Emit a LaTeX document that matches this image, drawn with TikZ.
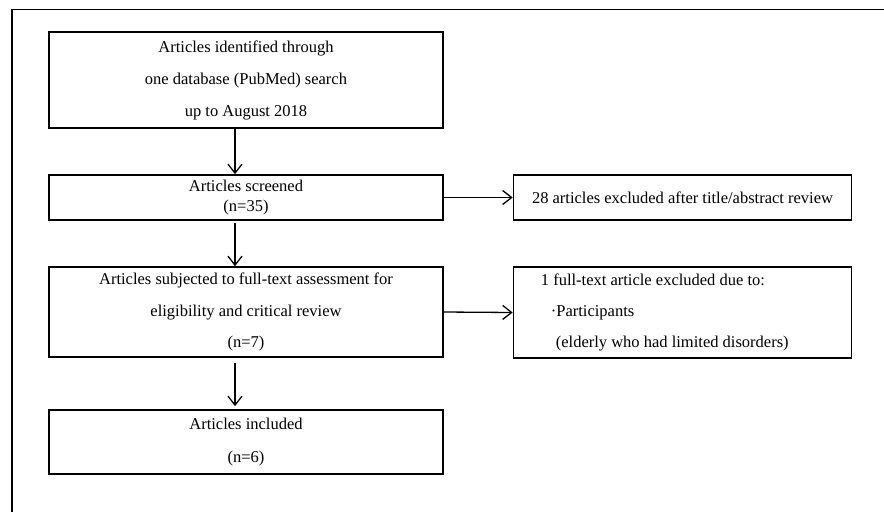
\documentclass[tikz,border=0pt]{standalone}
\usepackage{fontspec}
\setmainfont{Liberation Serif}
\usetikzlibrary{arrows.meta,positioning}

\begin{document}
\begin{tikzpicture}[x=1pt, y=-1pt,
	box/.style={draw, line width=1.6pt, minimum width=394pt, inner sep=0pt, align=center, font=\fontsize{16.5}{19}\selectfont},
	side/.style={box, minimum width=338pt},
	txt/.style={inner sep=0pt, align=left, font=\fontsize{16.5}{19}\selectfont},
	arr/.style={line width=1.3pt, -{Straight Barb[length=9pt, width=14pt]}}]
	\useasboundingbox (0,0) rectangle (884,512);
	
	% Cornice
	\draw[line width=1.6pt] (884,9.5) -- (12,9.5) -- (12,512);
	
	% Colonna principale
	\node[box, minimum height=96pt] (ident) at (246,80) {Articles identified through\\[13pt] one database (PubMed) search\\[13pt] up to August 2018};
	\node[box, minimum height=45pt] (screen) at (246,197.5) {Articles screened\\[1pt] (n=35)};
	\node[box, minimum height=90pt] (assess) at (246,312) {Articles subjected to full-text assessment for\\[13pt] eligibility and critical review\\[12pt] (n=7)};
	\node[box, minimum height=64pt] (incl) at (246,442) {Articles included\\[14pt] (n=6)};
	
	% Esclusioni
	\node[side, minimum height=45pt] (excl1) at (682.5,197.5) {28 articles excluded after title/abstract review};
	\node[side, minimum height=91pt] (excl2) at (682.5,312.5) {};
	\node[txt, right=28pt of excl2.west] (excl2txt) {1 full-text article excluded due to:\\[12pt] \hspace*{10pt}·Participants\\[12pt] \hspace*{15pt}(elderly who had limited disorders)};
	
	% Frecce
	\coordinate (ax) at (235,0);
	\draw[arr] (ident.south -| ax) -- (screen.north -| ax);
	\draw[arr, shorten <=2pt] (screen.south -| ax) -- (assess.north -| ax);
	\draw[arr, shorten <=5pt, shorten >=3pt] (assess.south -| ax) -- (incl.north -| ax);
	\draw[arr] (screen.east) -- (excl1.west);
	\draw[arr] (assess.east) -- (excl2.west);
\end{tikzpicture}
\end{document}
